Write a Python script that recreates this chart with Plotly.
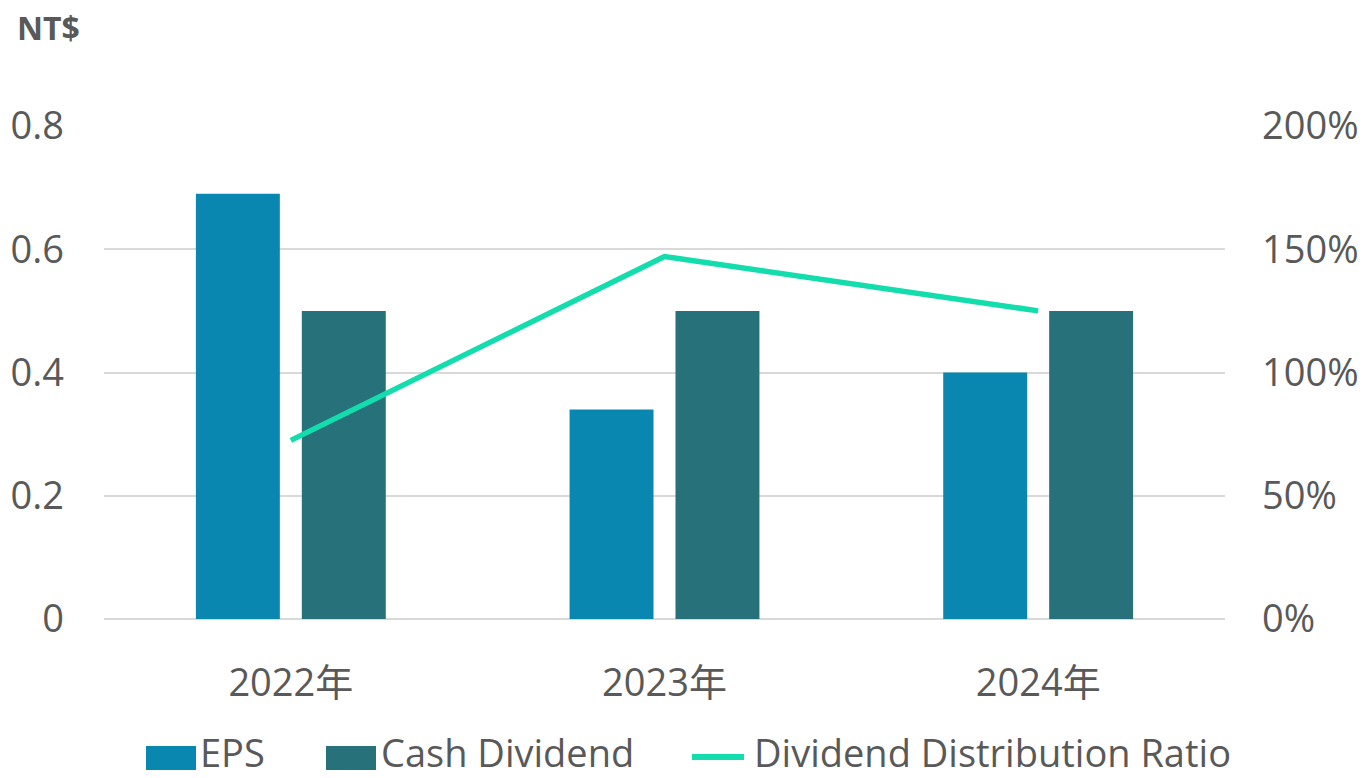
import plotly.graph_objects as go

categories = ["2022年", "2023年", "2024年"]
eps = [0.69, 0.34, 0.40]
cash_dividend = [0.50, 0.50, 0.50]
distribution_ratio = [0.7246, 1.4706, 1.25]
left_ticks = [0, 0.2, 0.4, 0.6, 0.8]
left_tick_labels = ["0", "0.2", "0.4", "0.6", "0.8"]
right_ticks = [0, 0.5, 1.0, 1.5, 2.0]
right_tick_labels = ["0%", "50%", "100%", "150%", "200%"]

C_EPS = "#0a87b1"
C_CASH = "#26717a"
C_LINE = "#13dcad"
TXT = "#595959"
FONT = "Open Sans, Noto Sans CJK TC, sans-serif"
FS = 38

fig = go.Figure()
fig.add_trace(go.Bar(x=categories, y=eps, name="EPS", marker=dict(color=C_EPS, line=dict(width=0))))
fig.add_trace(go.Bar(x=categories, y=cash_dividend, name="Cash Dividend", marker=dict(color=C_CASH, line=dict(width=0))))
fig.add_trace(go.Scatter(x=categories, y=distribution_ratio, name="Dividend Distribution Ratio", mode="lines",
                         line=dict(color=C_LINE, width=5.5), yaxis="y2"))

L, R, T, B = 104, 142, 126, 159
W, H = 1367, 778
pw = W - L - R
ph = H - T - B

def px(x):
    return (x - L) / pw

def py(y):
    return (H - B - y) / ph

fig.update_layout(
    width=W, height=H,
    margin=dict(l=L, r=R, t=T, b=B, pad=0, autoexpand=False),
    paper_bgcolor="white", plot_bgcolor="white",
    showlegend=False,
    barmode="group", bargap=0.433, bargroupgap=0.2075,
    font=dict(family=FONT, size=FS, color=TXT),
    xaxis=dict(showgrid=False, showline=False, ticks="", tickfont=dict(size=FS, color=TXT),
               ticklabelstandoff=38, automargin=False),
    yaxis=dict(range=[0, 0.8], tickvals=left_ticks, ticktext=left_tick_labels,
               showgrid=True, gridcolor="#d9d9d9", gridwidth=2,
               zeroline=True, zerolinecolor="#d9d9d9", zerolinewidth=2, automargin=False,
               showline=False, ticks="", ticklabelstandoff=39, tickfont=dict(size=FS, color=TXT)),
    yaxis2=dict(range=[0, 2.0], tickvals=right_ticks, ticktext=right_tick_labels,
                overlaying="y", side="right", showgrid=False, zeroline=False, showline=False,
                automargin=False,
                ticks="", ticklabelstandoff=36, tickfont=dict(size=FS, color=TXT)),
)

shapes = []
annotations = [dict(text="<b>NT$</b>", x=px(15), y=py(4), xref="paper", yref="paper",
                    xanchor="left", yanchor="top", showarrow=False,
                    font=dict(size=32, color=TXT, family=FONT))]
legend_y = 752
shapes.append(dict(type="rect", xref="paper", yref="paper", x0=px(146), x1=px(196),
                   y0=py(746), y1=py(770), fillcolor=C_EPS, line=dict(width=0)))
annotations.append(dict(text="EPS", x=px(198), y=py(legend_y), xref="paper", yref="paper",
                        xanchor="left", yanchor="middle", showarrow=False, font=dict(size=FS, color=TXT)))
shapes.append(dict(type="rect", xref="paper", yref="paper", x0=px(326), x1=px(376),
                   y0=py(746), y1=py(770), fillcolor=C_CASH, line=dict(width=0)))
annotations.append(dict(text="Cash Dividend", x=px(379), y=py(legend_y), xref="paper", yref="paper",
                        xanchor="left", yanchor="middle", showarrow=False, font=dict(size=FS, color=TXT)))
shapes.append(dict(type="line", xref="paper", yref="paper", x0=px(692), x1=px(744),
                   y0=py(757), y1=py(757), line=dict(color=C_LINE, width=6)))
annotations.append(dict(text="Dividend Distribution Ratio", x=px(752), y=py(legend_y), xref="paper", yref="paper",
                        xanchor="left", yanchor="middle", showarrow=False, font=dict(size=FS, color=TXT)))

fig.update_layout(shapes=shapes, annotations=annotations)
fig.write_html("out.html")
